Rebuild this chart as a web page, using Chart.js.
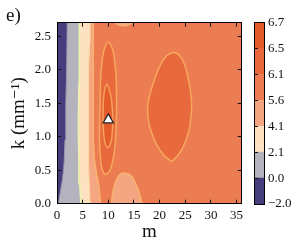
<!DOCTYPE html>
<html lang="en">
<head>
<meta charset="UTF-8">
<title>Contour map e)</title>
<script src="https://cdn.jsdelivr.net/npm/chart.js"></script>
<style>
    body {
        margin: 0;
        background: #fff;
    }

    .wrap {
        position: relative;
        width: 300px;
        height: 244px;
    }

    #mainChart,
    #barChart {
        position: absolute;
        top: 0;
    }

    #mainChart {
        left: 0;
    }

    #barChart {
        left: 246px;
    }

    .panel {
        position: absolute;
        left: 6px;
        top: 5px;
        font: 19px/19px "Liberation Serif", "DejaVu Serif", serif;
        color: #111;
    }
</style>
</head>
<body>
<div class="wrap">
    <canvas id="mainChart" width="300" height="244"></canvas>
    <canvas id="barChart" width="54" height="244"></canvas>
    <div class="panel">e)</div>
</div>

<script>
    // axes
    const mRange = [0, 36];
    const kRange = [0, 2.7];
    const mTicks = [0, 5, 10, 15, 20, 25, 30, 35];
    const kTicks = [0, 0.5, 1.0, 1.5, 2.0, 2.5];

    // contour levels (colorbar, bottom to top) and the fill of each band
    const levelLabels = ["−2.0", "0.0", "2.1", "4.1", "5.6", "6.1", "6.5", "6.7"];
    const levelColors = ["#463d7c", "#b4b2bd", "#fde1c1", "#f4a683", "#ec7d53", "#e8693d", "#e45b2c"];
    const bandSpan = [1, 1, 1, 1, 1, 1, 1];

    // level lines on the left side, m read at each k (bottom to top)
    const edge00K = [0, 0.05, 0.2, 0.35, 0.5, 0.65, 0.95, 1.5, 2.0, 2.7];
    const edge00M = [0.2, 0.38, 0.71, 1.03, 1.28, 1.42, 1.56, 1.72, 1.88, 2.0];
    const edge21K = [0, 0.3, 0.6, 0.95, 1.3, 1.8, 2.3, 2.7];
    const edge21M = [4.68, 4.45, 4.3, 4.23, 4.2, 4.3, 4.37, 4.4];
    const edge41K = [0, 0.25, 0.6, 1.0, 1.5, 2.0, 2.4, 2.7];
    const edge41M = [6.45, 6.3, 6.12, 6.08, 6.1, 6.22, 6.35, 6.42];
    const edge56K = [0, 0.1, 0.3, 0.45, 0.65, 0.9, 1.3, 2.0, 2.7];
    const edge56M = [8.45, 8.35, 8.1, 7.7, 7.3, 7.12, 7.08, 7.08, 7.05];

    // 5.6 islands touching the bottom and top
    const bumpLowM = [10.6, 10.75, 10.97, 11.35, 11.9, 12.5, 13.25, 14.0, 14.7, 15.25, 15.85, 16.25, 16.55];
    const bumpLowK = [0, 0.1, 0.2, 0.3, 0.4, 0.445, 0.456, 0.44, 0.39, 0.31, 0.2, 0.1, 0];
    const bumpTopM = [11.3, 11.8, 12.3, 13.0, 13.7, 14.2, 14.7];
    const bumpTopK = [2.7, 2.678, 2.662, 2.655, 2.662, 2.678, 2.7];

    // 6.1 closed contour around m = 22
    const ovalM = [22.35, 20.73, 19.43, 18.45, 17.8, 17.67, 18.0, 18.78, 19.75, 21.05, 22.68,
        23.98, 24.95, 25.6, 26.06, 26.25, 26.06, 25.6, 24.63, 23.65, 22.35];
    const ovalK = [0.63, 0.73, 0.88, 1.055, 1.255, 1.455, 1.6, 1.8, 2.0, 2.18, 2.254,
        2.204, 2.054, 1.855, 1.655, 1.455, 1.255, 1.055, 0.855, 0.73, 0.63];

    // 6.1 and 6.5 contours around the maximum near m = 10
    const peakOuterM = [9.4, 8.85, 8.5, 8.3, 8.3, 8.4, 8.5, 8.75, 9.2, 10.0,
        10.75, 11.2, 11.5, 11.6, 11.55, 11.35, 10.9, 10.2, 9.4];
    const peakOuterK = [0.43, 0.5, 0.65, 0.9, 1.2, 1.55, 1.85, 2.1, 2.3, 2.41,
        2.32, 2.15, 1.9, 1.55, 1.2, 0.9, 0.65, 0.48, 0.43];
    const peakInnerM = [9.9, 9.45, 9.15, 9.0, 9.0, 9.1, 9.35, 9.7, 10.1, 10.5, 10.8, 10.85, 10.7, 10.35, 9.9];
    const peakInnerK = [0.83, 0.88, 1.0, 1.2, 1.45, 1.6, 1.72, 1.78, 1.72, 1.6, 1.4, 1.2, 1.0, 0.88, 0.83];

    // marked optimum
    const markerM = [10.0];
    const markerK = [1.25];

    // contour line colours
    const line00 = "#9a95ae";
    const line21 = "#eef0b2";
    const line41 = "#fbd8a6";
    const line56 = "#f8b46c";
    const line61 = "#f6a85d";
    const line65 = "#f4a05a";

    const font = "'Liberation Serif', 'DejaVu Serif', serif";
    Chart.defaults.font.family = font;
    Chart.defaults.font.size = 13;
    Chart.defaults.color = "#111";

    function pts(ms, ks) {
        return ms.map((m, i) => ({ x: m, y: ks[i] }));
    }

    // region left of a level line, closed along the left edge of the plot
    function leftOf(ms, ks) {
        return [...pts(ms, ks), { x: mRange[0], y: kRange[1] }, { x: mRange[0], y: kRange[0] }];
    }

    function area(data, color) {
        return { data, fill: "shape", backgroundColor: color, borderWidth: 0, pointRadius: 0, tension: 0, clip: 0 };
    }

    function level(data, color, width) {
        return { data, fill: false, borderColor: color, borderWidth: width, pointRadius: 0, tension: 0, clip: 0 };
    }

    function island(data, fillColor, lineColor) {
        return {
            data, fill: "shape", backgroundColor: fillColor, borderColor: lineColor,
            borderWidth: 1.5, pointRadius: 0, tension: 0.4, clip: 0
        };
    }

    const whole = [
        { x: mRange[0], y: kRange[0] }, { x: mRange[1], y: kRange[0] },
        { x: mRange[1], y: kRange[1] }, { x: mRange[0], y: kRange[1] }
    ];

    const datasets = [
        area(whole, levelColors[4]),
        area(leftOf(edge56M, edge56K), levelColors[3]),
        area(leftOf(edge41M, edge41K), levelColors[2]),
        area(leftOf(edge21M, edge21K), levelColors[1]),
        area(leftOf(edge00M, edge00K), levelColors[0]),
        level(pts(edge56M, edge56K), line56, 1.5),
        level(pts(edge41M, edge41K), line41, 1.2),
        level(pts(edge21M, edge21K), line21, 1.8),
        level(pts(edge00M, edge00K), line00, 1),
        island(pts(bumpLowM, bumpLowK), levelColors[3], line56),
        island(pts(bumpTopM, bumpTopK), levelColors[3], line56),
        island(pts(ovalM, ovalK), levelColors[5], line61),
        island(pts(peakOuterM, peakOuterK), levelColors[5], line61),
        island(pts(peakInnerM, peakInnerK), levelColors[6], line65),
        {
            data: pts(markerM, markerK), showLine: false, pointStyle: "triangle", pointRadius: 6,
            pointBackgroundColor: "#fff", pointBorderColor: "#222", pointBorderWidth: 1.2, clip: false
        }
    ];
    datasets.forEach((d, i) => { d.order = datasets.length - i; });

    // frame and tick marks go above the filled contours
    const frame = { color: "#000", width: 1, z: 1 };
    const inTicks = { display: true, drawOnChartArea: false, drawTicks: true, tickLength: -4, color: "#111", lineWidth: 1, z: 1 };
    const noGrid = { display: false, drawTicks: false };

    new Chart(document.getElementById("mainChart"), {
        type: "line",
        data: { datasets },
        options: {
            responsive: false,
            animation: false,
            devicePixelRatio: 1,
            events: [],
            plugins: { legend: { display: false }, tooltip: { enabled: false } },
            scales: {
                x: {
                    type: "linear", position: "bottom", min: mRange[0], max: mRange[1], z: 1,
                    afterBuildTicks: s => { s.ticks = mTicks.map(v => ({ value: v })); },
                    afterFit: s => { s.height = 40.3; },
                    ticks: { padding: 8, callback: v => String(v) },
                    grid: inTicks,
                    border: frame,
                    title: { display: true, text: "m", font: { size: 19 }, padding: { top: 0, bottom: 1 } }
                },
                x2: {
                    type: "linear", position: "top", min: mRange[0], max: mRange[1], z: 1,
                    afterBuildTicks: s => { s.ticks = mTicks.map(v => ({ value: v })); },
                    afterFit: s => { s.height = 22.7; },
                    ticks: { display: false },
                    grid: inTicks,
                    border: frame
                },
                y: {
                    type: "linear", position: "left", min: kRange[0], max: kRange[1], z: 1,
                    afterBuildTicks: s => { s.ticks = kTicks.map(v => ({ value: v })); },
                    afterFit: s => { s.width = 57; },
                    ticks: { padding: 10, callback: v => v.toFixed(1) },
                    grid: inTicks,
                    border: frame,
                    title: { display: true, text: "k (mm⁻¹)", font: { size: 19 }, padding: { top: 8, bottom: 0 } }
                },
                y2: {
                    type: "linear", position: "right", min: kRange[0], max: kRange[1], z: 1,
                    afterBuildTicks: s => { s.ticks = kTicks.map(v => ({ value: v })); },
                    afterFit: s => { s.width = 58.3; },
                    ticks: { display: false },
                    grid: inTicks,
                    border: frame
                }
            }
        }
    });

    // colorbar
    new Chart(document.getElementById("barChart"), {
        type: "bar",
        data: {
            labels: [""],
            datasets: levelColors.map((c, i) => ({
                data: [bandSpan[i]], backgroundColor: c, borderWidth: 0,
                barPercentage: 1, categoryPercentage: 1, yAxisID: "y"
            }))
        },
        options: {
            responsive: false,
            animation: false,
            devicePixelRatio: 1,
            events: [],
            plugins: { legend: { display: false }, tooltip: { enabled: false } },
            scales: {
                x: {
                    stacked: true, z: 1,
                    afterFit: s => { s.height = 40; },
                    ticks: { display: false },
                    grid: noGrid,
                    border: frame
                },
                x2: {
                    type: "linear", position: "top", z: 1,
                    afterFit: s => { s.height = 22.7; },
                    ticks: { display: false },
                    grid: noGrid,
                    border: frame
                },
                y: {
                    type: "linear", position: "right", stacked: true, min: 0, max: bandSpan.length, z: 1,
                    afterBuildTicks: s => { s.ticks = levelLabels.map((_, i) => ({ value: i })); },
                    afterFit: s => { s.width = 36; },
                    ticks: { padding: 4, callback: (v, i) => levelLabels[i] },
                    grid: noGrid,
                    border: frame
                },
                yl: {
                    type: "linear", position: "left", min: 0, max: bandSpan.length, z: 1,
                    afterBuildTicks: s => { s.ticks = levelLabels.map((_, i) => ({ value: i })); },
                    afterFit: s => { s.width = 8; },
                    ticks: { display: false },
                    grid: inTicks,
                    border: frame
                }
            }
        }
    });
</script>
</body>
</html>
